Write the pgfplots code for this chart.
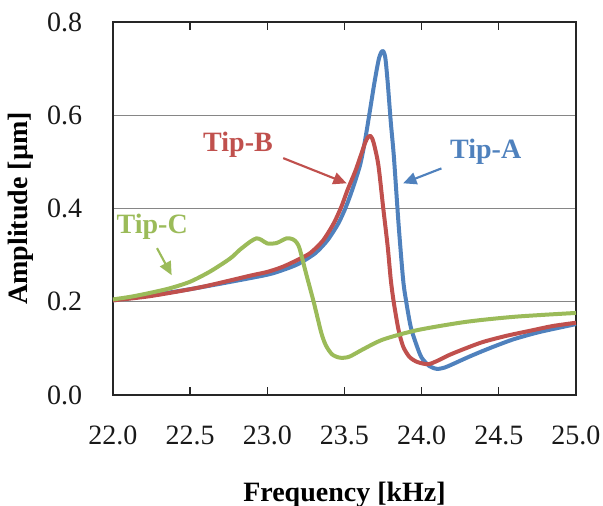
\documentclass[border=0pt]{standalone}
\usepackage{fontspec}
\setmainfont{Liberation Serif}
\usepackage{pgfplots}
\pgfplotsset{compat=1.18}
\usetikzlibrary{arrows.meta}
\definecolor{tipA}{HTML}{4F81BD}
\definecolor{tipB}{HTML}{C0504D}
\definecolor{tipC}{HTML}{9BBB59}
\definecolor{gridgray}{RGB}{134,134,134}

\pgfplotstableread{
f a
22.00 0.203
22.25 0.214
22.50 0.227
22.75 0.242
23.00 0.258
23.10 0.268
23.20 0.281
23.31 0.304
23.39 0.332
23.46 0.368
23.51 0.404
23.55 0.440
23.60 0.492
23.63 0.540
23.66 0.600
23.69 0.662
23.71 0.700
23.725 0.724
23.74 0.736
23.752 0.737
23.765 0.722
23.78 0.670
23.80 0.585
23.82 0.511
23.85 0.368
23.88 0.247
23.90 0.200
23.93 0.145
23.97 0.104
24.00 0.080
24.05 0.062
24.10 0.056
24.15 0.059
24.20 0.066
24.30 0.081
24.40 0.095
24.50 0.108
24.60 0.120
24.75 0.134
24.90 0.145
25.00 0.152
}\tipA

\pgfplotstableread{
f b
22.00 0.203
22.24 0.212
22.565 0.231
22.89 0.256
23.00 0.264
23.10 0.275
23.21 0.292
23.28 0.305
23.36 0.331
23.43 0.368
23.48 0.404
23.52 0.440
23.57 0.480
23.61 0.518
23.635 0.542
23.652 0.553
23.665 0.556
23.68 0.550
23.695 0.533
23.72 0.492
23.75 0.404
23.78 0.318
23.80 0.247
23.82 0.197
23.85 0.140
23.88 0.104
23.92 0.082
23.97 0.071
24.04 0.066
24.10 0.073
24.18 0.086
24.30 0.102
24.40 0.114
24.55 0.127
24.72 0.139
24.85 0.148
25.00 0.155
}\tipB

\pgfplotstableread{
f c
22.00 0.205
22.12 0.211
22.24 0.219
22.37 0.229
22.50 0.243
22.63 0.265
22.76 0.293
22.82 0.311
22.89 0.329
22.93 0.336
22.96 0.333
23.00 0.325
23.06 0.326
23.125 0.336
23.165 0.334
23.19 0.327
23.21 0.313
23.25 0.262
23.30 0.200
23.35 0.133
23.38 0.106
23.42 0.087
23.47 0.080
23.53 0.082
23.62 0.098
23.75 0.119
23.97 0.139
24.29 0.157
24.61 0.168
25.00 0.176
}\tipC

\begin{document}
\fontsize{21}{25}\selectfont
\begin{tikzpicture}
\begin{axis}[
  name=ax,
  width=347.25pt, height=279.75pt, scale only axis,
  xmin=22, xmax=25, ymin=0, ymax=0.8,
  xtick={22,22.5,23,23.5,24,24.5,25},
  ytick={0,0.2,0.4,0.6,0.8},
  tick align=inside,
  major tick length=6pt,
  xtick style={black!85, line width=1pt},
  ytick style={draw=none},
  ymajorgrids,
  grid style={gridgray, line width=1pt},
  axis line style={black!85, line width=1.2pt},
  tick label style={font=\fontsize{21}{25}\selectfont, text=black!90},
  xticklabel style={yshift=-16pt},
  yticklabel style={xshift=-16pt},
  label style={font=\bfseries\fontsize{21}{25}\selectfont},
  xlabel={Frequency [kHz]},
  ylabel={Amplitude [µm]},
  xlabel style={at={(axis description cs:0.5,-0.268)}, anchor=center},
  ylabel style={at={(axis description cs:-0.199,0.5)}, anchor=center},
  /pgf/number format/fixed,
  /pgf/number format/fixed zerofill,
  /pgf/number format/precision=1,
  /pgf/number format/assume math mode=true,
  clip=false,
]
\addplot[tipA, line width=3pt, smooth, tension=0.45, line join=round] table[x=f,y=a] {\tipA};
\addplot[tipB, line width=3pt, smooth, tension=0.45, line join=round] table[x=f,y=b] {\tipB};
\addplot[tipC, line width=3pt, smooth, tension=0.45, line join=round] table[x=f,y=c] {\tipC};

\node[text=tipA, font=\bfseries] at (axis cs:24.415,0.521) {Tip-A};
\node[text=tipB, font=\bfseries] at (axis cs:22.81,0.536) {Tip-B};
\node[text=tipC, font=\bfseries] at (axis cs:22.254,0.360) {Tip-C};
\draw[tipA, line width=1.6pt, -{Triangle[length=10pt,width=9pt]}] (axis cs:24.128,0.486) -- (axis cs:23.88,0.454);
\draw[tipB, line width=1.6pt, -{Triangle[length=10pt,width=9pt]}] (axis cs:23.103,0.508) -- (axis cs:23.514,0.454);
\draw[tipC, line width=1.6pt, -{Triangle[length=10pt,width=9pt]}] (axis cs:22.285,0.315) -- (axis cs:22.38,0.257);
\end{axis}
\pgfresetboundingbox
\path[use as bounding box] ([xshift=-84.75pt,yshift=-83.25pt]ax.south west) rectangle ++(452.25pt,379.5pt);
\end{tikzpicture}
\end{document}
